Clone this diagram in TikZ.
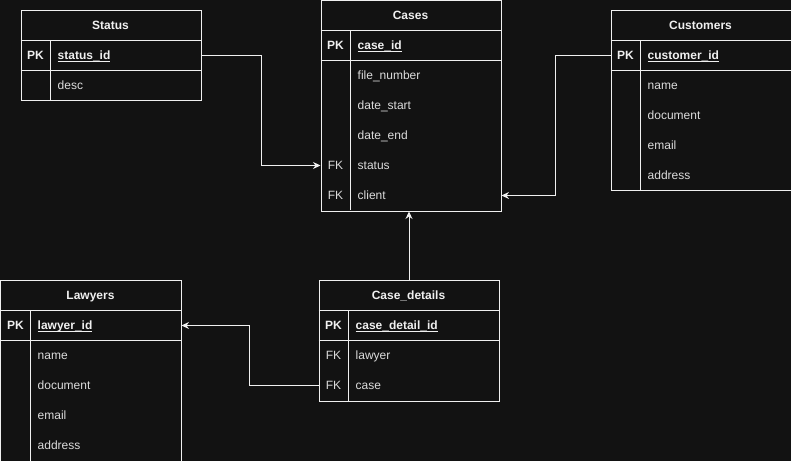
\documentclass[tikz,border=0pt]{standalone}
\usepackage{fontspec}
\setmainfont{Liberation Sans}
\usetikzlibrary{arrows.meta}
\definecolor{bg}{HTML}{121212}
\definecolor{fg}{HTML}{F0F0F0}
\definecolor{txt}{HTML}{DCDCDC}
\newcommand\pkline[1]{\setbox0=\hbox{#1}\rlap{\rule[-2.3bp]{\wd0}{0.9bp}}\box0}
\begin{document}
\begin{tikzpicture}[x=1bp,y=-1bp,
  every node/.style={font=\fontsize{12bp}{14bp}\selectfont},
  tbl/.style={draw=fg, line width=1bp, minimum width=180bp, inner sep=0pt, anchor=north west, fill=bg},
  hdr/.style={font=\fontsize{12bp}{14bp}\selectfont\bfseries, text=fg, inner sep=0pt, text height=8.6bp, text depth=0pt},
  keyb/.style={font=\fontsize{12bp}{14bp}\selectfont\bfseries, text=fg, inner sep=0pt, text height=8.6bp, text depth=0pt},
  keyc/.style={text=txt, inner sep=0pt, text height=8.6bp, text depth=0pt},
  fld/.style={text=txt, anchor=west, inner sep=0pt, text height=8.6bp, text depth=0pt},
  pkf/.style={fld, text=fg, font=\fontsize{12bp}{14bp}\selectfont\bfseries},
  sep/.style={draw=fg, line width=1bp},
  link/.style={draw=fg, line width=1bp, -{Stealth[length=7.5bp,width=7bp,inset=2.5bp]}}
]
\fill[bg] (0,0) rectangle (791,461);
\useasboundingbox (0,0) rectangle (791,461);

% Status
\node[tbl, minimum height=90bp] (status) at (20.5,10.5) {};
\draw[sep] (20.5,40.5) -- (200.5,40.5) (20.5,70.5) -- (200.5,70.5) (50.5,40.5) -- (50.5,100.5);
\node[hdr] (status-t) at (110.5,25.5) {Status};
\node[keyb] (status-k1) at (35.5,55.5) {PK};
\node[pkf] (status-pk) at (57.5,55.5) {\pkline{status\_id}};
\node[fld] (status-f1) at (57.5,85.5) {desc};

% Cases
\node[tbl, minimum height=210bp] (cases) at (320.5,0.5) {};
\draw[sep] (320.5,30.5) -- (500.5,30.5) (320.5,60.5) -- (500.5,60.5) (350.5,30.5) -- (350.5,210.5);
\node[hdr] (cases-t) at (410.5,15.5) {Cases};
\node[keyb] (cases-k1) at (335.5,45.5) {PK};
\node[pkf] (cases-pk) at (357.5,45.5) {\pkline{case\_id}};
\node[fld] (cases-f1) at (357.5,75.5) {file\_number};
\node[fld] (cases-f2) at (357.5,105.5) {date\_start};
\node[fld] (cases-f3) at (357.5,135.5) {date\_end};
\node[keyc] (cases-k4) at (335.5,165.5) {FK};
\node[fld] (cases-status) at (357.5,165.5) {status};
\node[keyc] (cases-k5) at (335.5,195.5) {FK};
\node[fld] (cases-client) at (357.5,195.5) {client};

% Customers
\node[tbl, minimum height=180bp] (customers) at (610.5,10.5) {};
\draw[sep] (610.5,40.5) -- (790.5,40.5) (610.5,70.5) -- (790.5,70.5) (640.5,40.5) -- (640.5,190.5);
\node[hdr] (customers-t) at (700.5,25.5) {Customers};
\node[keyb] (customers-k1) at (625.5,55.5) {PK};
\node[pkf] (customers-pk) at (647.5,55.5) {\pkline{customer\_id}};
\node[fld] (customers-f1) at (647.5,85.5) {name};
\node[fld] (customers-f2) at (647.5,115.5) {document};
\node[fld] (customers-f3) at (647.5,145.5) {email};
\node[fld] (customers-f4) at (647.5,175.5) {address};

% Lawyers
\node[tbl, minimum height=180bp] (lawyers) at (0.5,280.5) {};
\draw[sep] (0.5,310.5) -- (180.5,310.5) (0.5,340.5) -- (180.5,340.5) (30.5,310.5) -- (30.5,460.5);
\node[hdr] (lawyers-t) at (90.5,295.5) {Lawyers};
\node[keyb] (lawyers-k1) at (15.5,325.5) {PK};
\node[pkf] (lawyers-pk) at (37.5,325.5) {\pkline{lawyer\_id}};
\node[fld] (lawyers-f1) at (37.5,355.5) {name};
\node[fld] (lawyers-f2) at (37.5,385.5) {document};
\node[fld] (lawyers-f3) at (37.5,415.5) {email};
\node[fld] (lawyers-f4) at (37.5,445.5) {address};

% Case_details
\node[tbl, minimum height=120bp] (details) at (318.5,280.5) {};
\draw[sep] (318.5,310.5) -- (498.5,310.5) (318.5,340.5) -- (498.5,340.5) (348.5,310.5) -- (348.5,400.5);
\node[hdr] (details-t) at (408.5,295.5) {Case\_details};
\node[keyb] (details-k1) at (333.5,325.5) {PK};
\node[pkf] (details-pk) at (355.5,325.5) {\pkline{case\_detail\_id}};
\node[keyc] (details-k2) at (333.5,355.5) {FK};
\node[fld] (details-lawyer) at (355.5,355.5) {lawyer};
\node[keyc] (details-k3) at (333.5,385.5) {FK};
\node[fld] (details-case) at (355.5,385.5) {case};

% Connectors
\draw[link] (status.east |- status-pk) -- ++(60,0) |- (cases.west |- cases-status);
\draw[link] (customers.west |- customers-pk) -- ++(-55,0) |- (cases.east |- cases-client);
\draw[link] (details.north) -- (details.north |- cases.south);
\draw[link] (details.west |- details-case) -- ++(-69,0) |- (lawyers.east |- lawyers-pk);
\end{tikzpicture}
\end{document}
